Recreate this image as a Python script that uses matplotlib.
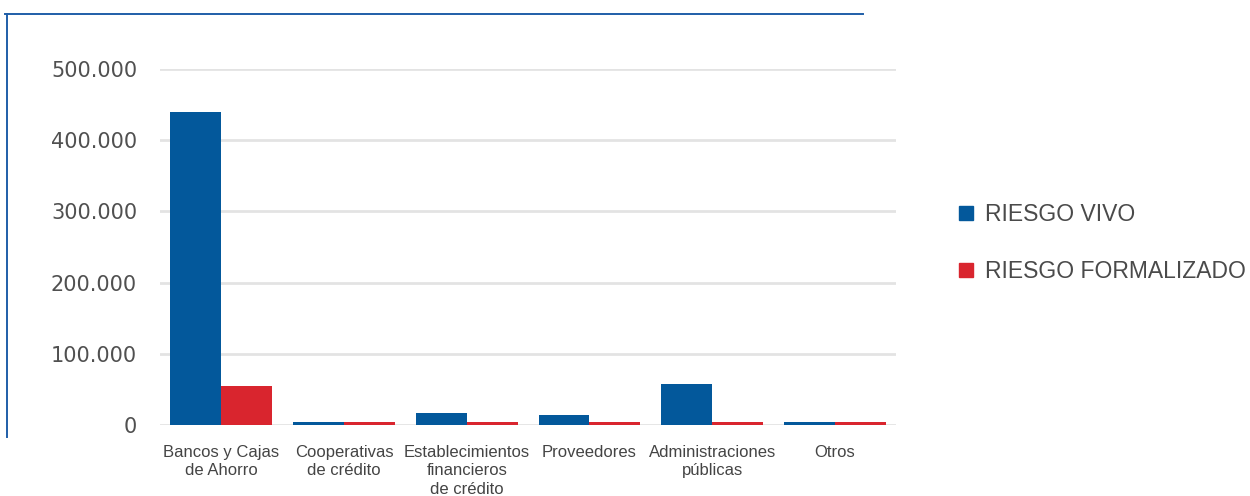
import matplotlib
matplotlib.use("Agg")
import matplotlib.pyplot as plt
import numpy as np
from matplotlib.lines import Line2D

categories = ["Bancos y Cajas\nde Ahorro", "Cooperativas\nde crédito",
              "Establecimientos\nfinancieros\nde crédito", "Proveedores",
              "Administraciones\npúblicas", "Otros"]
riesgo_vivo = [440000, 5000, 17000, 14000, 57000, 5000]
riesgo_formalizado = [55000, 5000, 5000, 5000, 5000, 5000]
yticks = [0, 100000, 200000, 300000, 400000, 500000]
ytick_labels = ["0", "100.000", "200.000", "300.000", "400.000", "500.000"]
series_names = ["RIESGO VIVO", "RIESGO FORMALIZADO"]

BLUE = "#03589b"
RED = "#d9252e"
GRID = "#e3e3e3"
TEXT = "#4a4a4a"
BORDER = "#1f5ea8"

plt.rcParams['font.family'] = ['Liberation Sans', 'DejaVu Sans']

fig = plt.figure(figsize=(12.5, 4.96), dpi=100)
ax = fig.add_axes([0.128, 0.143, 0.589, 0.718])

x = np.arange(len(categories))
w = 0.415
ax.bar(x - w / 2, riesgo_vivo, width=w, color=BLUE, zorder=3)
ax.bar(x + w / 2, riesgo_formalizado, width=w, color=RED, zorder=3)

ax.set_xlim(-0.5, len(categories) - 0.5)
ax.set_ylim(0, 500000)
ax.set_yticks(yticks)
ax.set_yticklabels(ytick_labels, family=['DejaVu Sans'], fontsize=15, color="#505050")
ax.set_xticks(x)
ax.set_xticklabels(categories, fontsize=12, color="#444444", linespacing=1.3)
ax.tick_params(axis='y', length=0, pad=16.5)
ax.tick_params(axis='x', length=0, pad=14)
ax.yaxis.grid(True, color=GRID, linewidth=2, zorder=0)
ax.set_axisbelow(True)
for s in ax.spines.values():
    s.set_visible(False)

# decorative border lines
fig.add_artist(Line2D([5 / 1250, 863 / 1250], [1 - 14 / 496, 1 - 14 / 496],
                      transform=fig.transFigure, color=BORDER, linewidth=1.4))
fig.add_artist(Line2D([7 / 1250, 7 / 1250], [1 - 14 / 496, 1 - 437 / 496],
                      transform=fig.transFigure, color=BORDER, linewidth=1.4))

handles = [Line2D([], [], marker='s', linestyle='none', markersize=10.5, color=BLUE),
           Line2D([], [], marker='s', linestyle='none', markersize=10.5, color=RED)]
leg = fig.legend(handles, series_names, loc='center left',
                 bbox_to_anchor=(957 / 1250, 1 - 243 / 496), frameon=False,
                 fontsize=16.5, labelspacing=1.45, handlelength=0.8, handletextpad=0.44,
                 borderpad=0, borderaxespad=0)
for t in leg.get_texts():
    t.set_color(TEXT)

fig.savefig("out.png", dpi=100, facecolor="white")
